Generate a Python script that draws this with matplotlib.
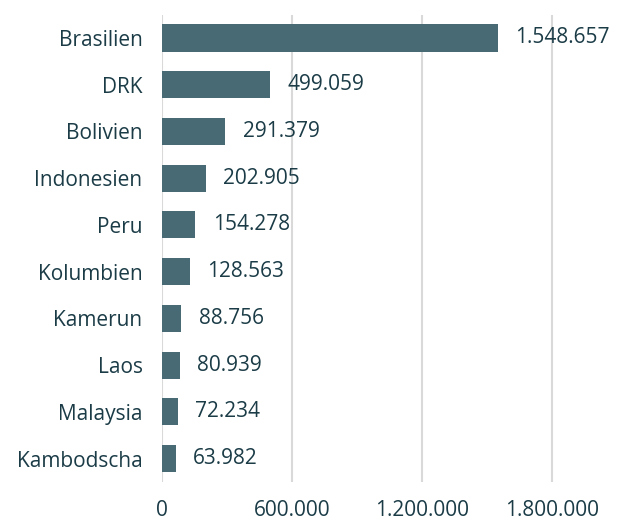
import matplotlib.pyplot as plt
from matplotlib.ticker import FuncFormatter

countries = ["Brasilien", "DRK", "Bolivien", "Indonesien", "Peru",
             "Kolumbien", "Kamerun", "Laos", "Malaysia", "Kambodscha"]
values = [1548657, 499059, 291379, 202905, 154278,
          128563, 88756, 80939, 72234, 63982]
x_ticks = [0, 600000, 1200000, 1800000]

bar_color = "#476a74"
text_color = "#1b3c47"


def de_format(v, pos=None):
    return f"{v:,.0f}".replace(",", ".")


plt.rcParams["font.family"] = ["Open Sans", "DejaVu Sans"]

fig = plt.figure(figsize=(6.2, 5.21), facecolor="white", dpi=100)
ax = fig.add_axes([0.2613, 0.075, 0.734, 0.897])

y = list(range(len(countries)))
ax.barh(y, values, height=0.58, color=bar_color, zorder=2)

for yi, v in zip(y, values):
    ax.annotate(de_format(v), (v, yi), xytext=(12.5, 0), textcoords="offset points",
                va="center", ha="left", fontsize=15, color=text_color)

ax.set_ylim(len(countries) - 0.5, -0.5)
ax.set_xlim(0, 2100000)
ax.set_yticks(y)
ax.set_yticklabels(countries)
ax.set_xticks(x_ticks)
ax.xaxis.set_major_formatter(FuncFormatter(de_format))

ax.tick_params(axis="both", length=0, labelsize=15, labelcolor=text_color)
ax.tick_params(axis="y", pad=14)
ax.tick_params(axis="x", pad=13)

ax.grid(axis="x", color="#d9d9d9", linewidth=1.5, zorder=0)
for s in ax.spines.values():
    s.set_visible(False)

plt.savefig("out.png", dpi=100)
